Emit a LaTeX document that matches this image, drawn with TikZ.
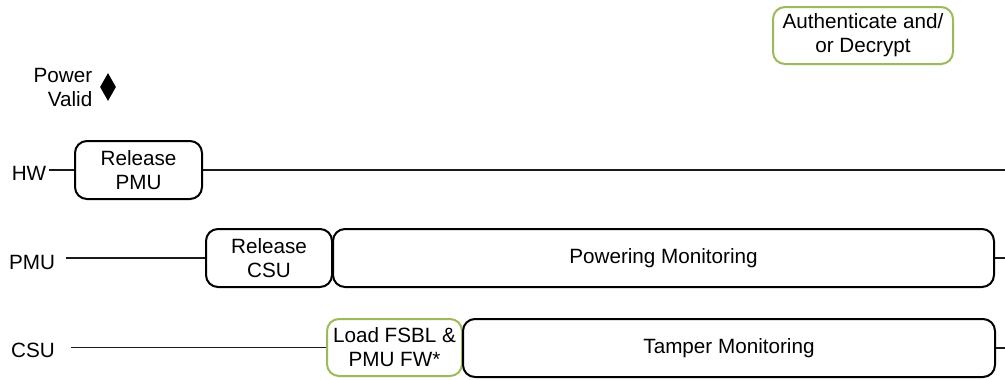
\documentclass[tikz,border=0pt]{standalone}
\usepackage{fontspec}
\setmainfont{Liberation Sans}
\usepackage{tikz}
\usepackage{xcolor}
\usetikzlibrary{
  positioning, shapes.geometric, calc, fit,
}
\definecolor{bootGreen}{HTML}{9BBB59}
\definecolor{laneLine} {HTML}{1A1A1A}

\tikzset{
  stagebox/.style={draw=black, line width=1.5pt, rounded corners=9pt,
    inner sep=0pt},
  loadbox/.style={stagebox, draw=bootGreen},
  boxtext/.style={align=center, inner sep=0pt},
  lanelabel/.style={inner sep=2pt, anchor=center},
  laneline/.style={draw=laneLine, line width=0.9pt},
}

\begin{document}
\begin{tikzpicture}[x=0.75pt, y=-0.75pt, font=\fontsize{15.5}{18}\selectfont]
  \useasboundingbox (0,0) rectangle (1005,379);

  % power valid marker
  \node[align=right, inner sep=0pt] (pv) at (63,87) {Power\\Valid};
  \node[diamond, fill=black, inner sep=0pt, minimum width=12pt,
        minimum height=21pt] (pvmark) at (108,87) {};

  % boxes, given by their corners
  \node[loadbox, fit={(773,7) (953,64)}] (auth) {};
  \node[stagebox, fit={(75,141) (202,199)}] (relpmu) {};
  \node[stagebox, fit={(206,229) (332,287)}] (relcsu) {};
  \node[stagebox, fit={(333,229) (994,287)}] (pwrmon) {};
  \node[loadbox, fit={(327,319) (462,376)}] (loadfsbl) {};
  \node[stagebox, fit={(463,319) (995,377)}] (tampmon) {};

  \node[boxtext] (auth-t)     at (auth)     {Authenticate and/\\or Decrypt};
  \node[boxtext] (relpmu-t)   at (relpmu)   {Release\\PMU};
  \node[boxtext] (relcsu-t)   at (relcsu)   {Release\\CSU};
  \node[boxtext] (pwrmon-t)   at (pwrmon)   {Powering Monitoring};
  \node[boxtext] (loadfsbl-t) at (loadfsbl) {Load FSBL \&\\PMU FW*};
  \node[boxtext] (tampmon-t)  at (tampmon)  {Tamper Monitoring};

  % lane labels
  \node[lanelabel] (hw)  at (29,173)  {HW};
  \node[lanelabel] (pmu) at (32,262)  {PMU};
  \node[lanelabel] (csu) at (33,350)  {CSU};

  \coordinate (hwend)  at (1005,170);
  \coordinate (pmuend) at (1005,258);
  \coordinate (csuend) at (1005,348);

  % lane lines
  \draw[laneline] (relpmu.west -| hw.east) -- (relpmu.west);
  \draw[laneline] (relpmu.east) -- (hwend);
  \draw[laneline] ([xshift=6pt]relcsu.west -| pmu.east) -- (relcsu.west);
  \draw[laneline] (pwrmon.east |- pmuend) -- (pmuend);
  \draw[laneline] ([xshift=10pt]loadfsbl.west -| csu.east) -- (loadfsbl.west);
  \draw[laneline] (tampmon.east |- csuend) -- (csuend);
\end{tikzpicture}
\end{document}
